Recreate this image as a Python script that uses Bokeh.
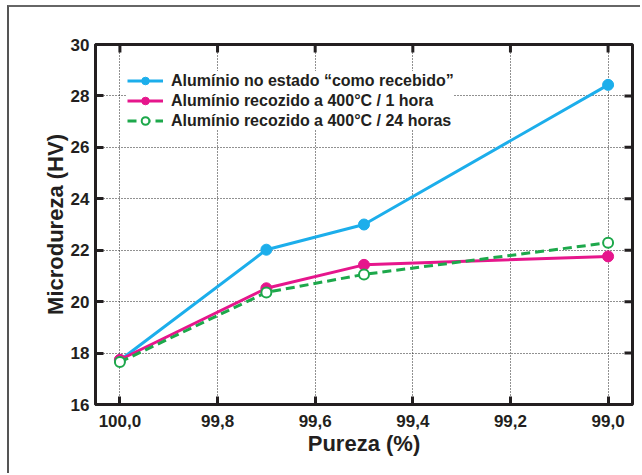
import math
from bokeh.plotting import figure
from bokeh.models import Range1d, FixedTicker, CustomJSTickFormatter, Legend
from bokeh.embed import file_html
from bokeh.resources import INLINE

# Data
pureza = [100.0, 99.7, 99.5, 99.0]
como_recebido = [17.72, 22.02, 23.0, 28.43]
recozido_1h = [17.74, 20.52, 21.43, 21.76]
recozido_24h = [17.65, 20.36, 21.06, 22.29]

x_ticks = [100.0, 99.8, 99.6, 99.4, 99.2, 99.0]
y_ticks = [16, 18, 20, 22, 24, 26, 28, 30]
x_min, x_max = 100.05, 98.95
y_min, y_max = 16, 30

labels = [
    "Alumínio no estado “como recebido”",
    "Alumínio recozido a 400°C / 1 hora",
    "Alumínio recozido a 400°C / 24 horas",
]

BLUE = "#1CAEEB"
MAGENTA = "#E6168C"
GREEN = "#1DA84B"
DARK = "#231F20"
FONT = "Liberation Sans"

p = figure(width=633, height=468, output_backend="svg", toolbar_location=None,
           x_range=Range1d(x_min, x_max), y_range=Range1d(y_min, y_max),
           min_border_left=86, min_border_top=37, min_border_right=10, min_border_bottom=71)
p.styles = {"margin-left": "7px", "margin-top": "5px",
            "border-left": "2px solid #555555", "border-top": "2px solid #666666"}
p.outline_line_color = DARK
p.outline_line_width = 3
p.background_fill_color = "white"

fmt = CustomJSTickFormatter(code="return tick.toFixed(1).replace('.', ',');")

for ax in (p.xaxis[0], p.yaxis[0]):
    ax.axis_line_width = 3
    ax.axis_line_color = DARK
    ax.major_tick_line_width = 3
    ax.major_tick_line_color = DARK
    ax.major_tick_in = 8
    ax.major_tick_out = 0
    ax.minor_tick_line_color = None
    ax.major_label_text_font = FONT
    ax.major_label_text_font_style = "bold"
    ax.major_label_text_color = DARK
    ax.major_label_text_font_size = "17px"
    ax.major_label_standoff = 6
    ax.axis_label_text_font = FONT
    ax.axis_label_text_font_style = "bold"
    ax.axis_label_text_font_size = "22px"
    ax.axis_label_text_color = DARK

p.xaxis.ticker = FixedTicker(ticks=x_ticks)
p.xaxis.formatter = fmt
p.yaxis.ticker = FixedTicker(ticks=y_ticks)
p.xaxis.axis_label = "Pureza (%)"
p.yaxis.axis_label = "Microdureza (HV)"
p.xaxis.major_label_standoff = 10
p.xaxis.axis_label_standoff = 1
p.yaxis.axis_label_standoff = 0

p.xgrid.ticker = FixedTicker(ticks=x_ticks)
p.ygrid.ticker = FixedTicker(ticks=y_ticks)
for g in (p.xgrid[0], p.ygrid[0]):
    g.grid_line_color = "#222222"
    g.grid_line_width = 1
    g.grid_line_dash = "1 2"

# mirrored inward ticks on the top and right frame edges (half of each dash is clipped by the frame)
p.scatter(x_ticks, [y_max] * len(x_ticks), marker="dash", size=16, angle=math.pi / 2,
          line_color=DARK, line_width=3)
p.scatter([x_max] * len(y_ticks), y_ticks, marker="dash", size=16,
          line_color=DARK, line_width=3)

r1l = p.line(pureza, como_recebido, line_color=BLUE, line_width=3)
r1s = p.scatter(pureza, como_recebido, size=11, fill_color=BLUE, line_color=BLUE)
r2l = p.line(pureza, recozido_1h, line_color=MAGENTA, line_width=3)
r2s = p.scatter(pureza, recozido_1h, size=11, fill_color=MAGENTA, line_color=MAGENTA)
r3l = p.line(pureza, recozido_24h, line_color=GREEN, line_width=3, line_dash="9 5")
r3s = p.scatter(pureza, recozido_24h, size=10, fill_color="white", line_color=GREEN, line_width=2)

legend = Legend(items=[(labels[0], [r1l, r1s]), (labels[1], [r2l, r2s]), (labels[2], [r3l, r3s])],
                location=(32, 274))
legend.border_line_color = None
legend.background_fill_color = "white"
legend.background_fill_alpha = 1
legend.padding = 8
legend.margin = 0
legend.spacing = 1
legend.glyph_width = 36
legend.glyph_height = 19
legend.label_height = 19
legend.label_standoff = 8
legend.label_text_font = FONT
legend.label_text_font_style = "bold"
legend.label_text_font_size = "16px"
legend.label_text_color = DARK
p.add_layout(legend, "center")

open("out.html", "w").write(file_html(p, INLINE))
